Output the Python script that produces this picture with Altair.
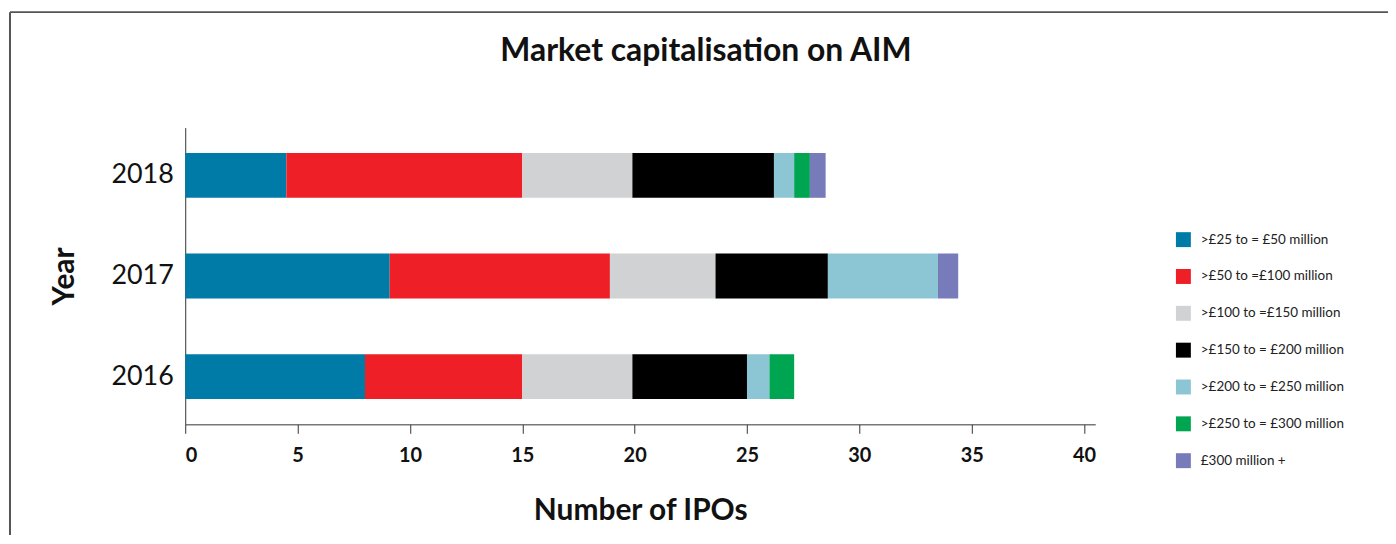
import altair as alt
import pandas as pd

title_text = "Market capitalisation on AIM"
years = ["2018", "2017", "2016"]
bands = [
    ">£25 to = £50 million",
    ">£50 to =£100 million",
    ">£100 to =£150 million",
    ">£150 to = £200 million",
    ">£200 to = £250 million",
    ">£250 to = £300 million",
    "£300 million +",
]
colors = ["#007BA7", "#EE1F26", "#D1D2D4", "#000000", "#8CC6D4", "#00A551", "#787BBA"]

v2018 = [4.5, 10.5, 4.9, 6.3, 0.9, 0.7, 0.7]
v2017 = [9.1, 9.8, 4.7, 5.0, 4.9, 0.0, 0.9]
v2016 = [8.0, 7.0, 4.9, 5.1, 1.0, 1.1, 0.0]

rows = []
for y, vals in zip(years, [v2018, v2017, v2016]):
    for i, (b, v) in enumerate(zip(bands, vals)):
        rows.append({"Year": y, "Band": b, "Value": v, "idx": i})
df = pd.DataFrame(rows)
one = pd.DataFrame({"t": [title_text]})

FONT = "Lato"

bars = alt.Chart(df).mark_bar(size=45).encode(
    x=alt.X("Value:Q", stack="zero",
            scale=alt.Scale(domain=[0, 40.5], nice=False, zero=True),
            axis=alt.Axis(values=[0, 5, 10, 15, 20, 25, 30, 35, 40], title="Number of IPOs",
                          grid=False, tickSize=9, tickColor="#333", domainColor="#333",
                          labelFontSize=20, labelFontWeight="bold", labelFont=FONT,
                          labelColor="#111", labelPadding=12, titleFontSize=30,
                          titleFont=FONT, titleFontWeight="bold", titleColor="#111",
                          titlePadding=31)),
    y=alt.Y("Year:N", sort=years,
            scale=alt.Scale(paddingInner=0.55, paddingOuter=0.25),
            axis=alt.Axis(title="Year", ticks=False, domainColor="#333",
                          labelFontSize=27, labelFont=FONT, labelColor="#111",
                          labelPadding=12, titleFontSize=30, titleFont=FONT,
                          titleFontWeight="bold", titleColor="#111", titlePadding=32)),
    color=alt.Color("Band:N", sort=bands,
                    scale=alt.Scale(domain=bands, range=colors),
                    legend=alt.Legend(title=None, orient="none", legendX=995, legendY=105,
                                      symbolType="square", symbolSize=225,
                                      symbolStrokeWidth=0, rowPadding=22,
                                      labelFont=FONT, labelFontSize=13.5,
                                      labelColor="#222", labelOffset=10)),
    order=alt.Order("idx:Q"),
)

frame_left = alt.Chart(one).mark_rule(color="#555", strokeWidth=2).encode(
    x=alt.value(-176), y=alt.value(-116), y2=alt.value(700))
frame_top = alt.Chart(one).mark_rule(color="#555", strokeWidth=2).encode(
    y=alt.value(-116), x=alt.value(-176), x2=alt.value(1400))

title = alt.Chart(one).mark_text(font=FONT, fontSize=32, fontWeight="bold", color="#111",
                                 align="center", baseline="middle").encode(
    text="t:N", x=alt.value(523), y=alt.value(-77))

chart = alt.layer(frame_left, frame_top, title, bars).properties(
    width=914, height=298,
    background="white",
    autosize=alt.AutoSizeParams(type="none"),
    padding={"left": 178, "top": 119, "right": 294, "bottom": 110},
).configure_view(strokeWidth=0)

chart.save("out.html", embed_options={"renderer": "svg", "actions": False})
